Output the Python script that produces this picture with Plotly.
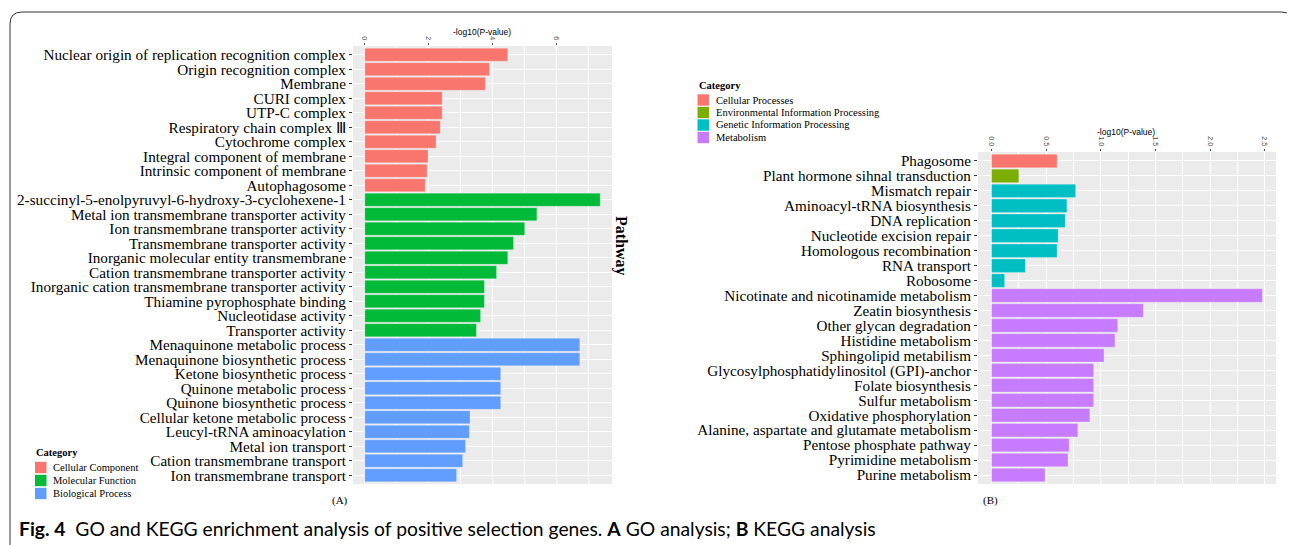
import plotly.graph_objects as go

# page offset of the plot div (default body margin) is compensated below
OFF = 8
W, H = 1295 - OFF, 545 - OFF

# ---------------- data ----------------
go_categories = ["Cellular Component", "Molecular Function", "Biological Process"]
go_colors = ["#F8766D", "#00BA38", "#619CFF"]

go_terms = [
    "Nuclear origin of replication recognition complex",
    "Origin recognition complex",
    "Membrane",
    "CURI complex",
    "UTP-C complex",
    "Respiratory chain complex Ⅲ",
    "Cytochrome complex",
    "Integral component of membrane",
    "Intrinsic component of membrane",
    "Autophagosome",
    "2-succinyl-5-enolpyruvyl-6-hydroxy-3-cyclohexene-1",
    "Metal ion transmembrane transporter activity",
    "Ion transmembrane transporter activity",
    "Transmembrane transporter activity",
    "Inorganic molecular entity transmembrane",
    "Cation transmembrane transporter activity",
    "Inorganic cation transmembrane transporter activity",
    "Thiamine pyrophosphate binding",
    "Nucleotidase activity",
    "Transporter activity",
    "Menaquinone metabolic process",
    "Menaquinone biosynthetic process",
    "Ketone biosynthetic process",
    "Quinone metabolic process",
    "Quinone biosynthetic process",
    "Cellular ketone metabolic process",
    "Leucyl-tRNA aminoacylation",
    "Metal ion transport",
    "Cation transmembrane transport",
    "Ion transmembrane transport",
]
go_values = [
    4.47, 3.90, 3.77, 2.42, 2.42, 2.36, 2.23, 1.98, 1.95, 1.89,
    7.36, 5.38, 5.00, 4.65, 4.47, 4.12, 3.74, 3.74, 3.62, 3.49,
    6.72, 6.72, 4.25, 4.25, 4.25, 3.29, 3.27, 3.15, 3.06, 2.87,
]
go_groups = (["Cellular Component"] * 10 + ["Molecular Function"] * 10
             + ["Biological Process"] * 10)

kegg_categories = ["Cellular Processes", "Environmental Information Processing",
                   "Genetic Information Processing", "Metabolism"]
kegg_colors = ["#F8766D", "#7CAE00", "#00BFC4", "#C77CFF"]

kegg_terms = [
    "Phagosome",
    "Plant hormone sihnal transduction",
    "Mismatch repair",
    "Aminoacyl-tRNA biosynthesis",
    "DNA replication",
    "Nucleotide excision repair",
    "Homologous recombination",
    "RNA transport",
    "Robosome",
    "Nicotinate and nicotinamide metabolism",
    "Zeatin biosynthesis",
    "Other glycan degradation",
    "Histidine metabolism",
    "Sphingolipid metabilism",
    "Glycosylphosphatidylinositol (GPI)-anchor",
    "Folate biosynthesis",
    "Sulfur metabolism",
    "Oxidative phosphorylation",
    "Alanine, aspartate and glutamate metabolism",
    "Pentose phosphate pathway",
    "Pyrimidine metabolism",
    "Purine metabolism",
]
kegg_values = [
    0.60, 0.25,
    0.77, 0.69, 0.675, 0.61, 0.60, 0.31, 0.12,
    2.48, 1.39, 1.155, 1.13, 1.03, 0.935, 0.935, 0.935, 0.90, 0.79, 0.71, 0.70, 0.49,
]
kegg_groups = (["Cellular Processes"] + ["Environmental Information Processing"]
               + ["Genetic Information Processing"] * 7 + ["Metabolism"] * 13)

go_xticks = [0, 2, 4, 6]
kegg_xticks = [0.0, 0.5, 1.0, 1.5, 2.0, 2.5]

# ---------------- helpers (page pixel -> paper) ----------------
def px(x):
    return (x - OFF) / W


def py(y):
    return 1 - (y - OFF) / H


SERIF = "Liberation Serif"
SANS = "Liberation Sans"
LABEL_SIZE = 15.2

fig = go.Figure()

for cat, col in zip(go_categories, go_colors):
    ys = [t for t, g in zip(go_terms, go_groups) if g == cat]
    xs = [v for v, g in zip(go_values, go_groups) if g == cat]
    fig.add_trace(go.Bar(y=ys, x=xs, orientation="h", width=0.9, name=cat,
                         marker=dict(color=col, line=dict(color="rgba(255,255,255,0.35)", width=0.8)),
                         xaxis="x", yaxis="y", showlegend=False))

for cat, col in zip(kegg_categories, kegg_colors):
    ys = [t for t, g in zip(kegg_terms, kegg_groups) if g == cat]
    xs = [v for v, g in zip(kegg_values, kegg_groups) if g == cat]
    fig.add_trace(go.Bar(y=ys, x=xs, orientation="h", width=0.9, name=cat,
                         marker=dict(color=col, line=dict(color="rgba(255,255,255,0.35)", width=0.8)),
                         xaxis="x2", yaxis="y2", showlegend=False))

xcommon = dict(side="top", tickangle=90, ticks="outside", ticklen=2.5, tickwidth=1,
               tickcolor="#4d4d4d", tickfont=dict(family=SANS, size=7, color="#4d4d4d"),
               showgrid=True, gridcolor="white", gridwidth=1.3, zeroline=False,
               showline=False, automargin=False, fixedrange=True)
ycommon = dict(type="category", categoryorder="array", ticks="outside", ticklen=3,
               tickwidth=1, tickcolor="#333333", tickmode="array",
               tickfont=dict(family=SERIF, size=LABEL_SIZE, color="black"),
               showgrid=True, gridcolor="white", gridwidth=1.3, zeroline=False,
               showline=False, automargin=False, fixedrange=True)

go_min = -0.05 * max(go_values)
go_max = max(go_values) * 1.05
kegg_min = -0.05 * max(kegg_values)
kegg_max = max(kegg_values) * 1.05

fig.update_layout(
    width=W, height=H,
    margin=dict(l=0, r=0, t=0, b=0),
    paper_bgcolor="white", plot_bgcolor="#EBEBEB",
    barmode="overlay",
    xaxis=dict(domain=[px(353), px(612)], anchor="y", range=[go_min, go_max],
               tickvals=go_xticks, ticktext=[str(v) for v in go_xticks],
               minor=dict(tickvals=[v + 1 for v in go_xticks], showgrid=True,
                          gridcolor="white", gridwidth=0.6, ticks=""),
               **xcommon),
    yaxis=dict(domain=[py(484), py(46)], anchor="x", categoryarray=go_terms,
               tickvals=go_terms, ticktext=go_terms,
               range=[len(go_terms) - 0.4, -0.6], **ycommon),
    xaxis2=dict(domain=[px(978), px(1276)], anchor="y2", range=[kegg_min, kegg_max],
                tickvals=kegg_xticks, ticktext=[f"{v:.1f}" for v in kegg_xticks],
                minor=dict(tickvals=[v + 0.25 for v in kegg_xticks], showgrid=True,
                           gridcolor="white", gridwidth=0.6, ticks=""),
                **xcommon),
    yaxis2=dict(domain=[py(484), py(152)], anchor="x2", categoryarray=kegg_terms,
                tickvals=kegg_terms, ticktext=kegg_terms,
                range=[len(kegg_terms) - 0.4, -0.6], **ycommon),
)

ann = []
# axis titles
ann.append(dict(x=px(482), y=py(32), xref="paper", yref="paper", text="-log10(P-value)",
                showarrow=False, font=dict(family=SANS, size=8.5, color="black"),
                xanchor="center", yanchor="middle"))
ann.append(dict(x=px(1126), y=py(132), xref="paper", yref="paper", text="-log10(P-value)",
                showarrow=False, font=dict(family=SANS, size=8.5, color="black"),
                xanchor="center", yanchor="middle"))
# Pathway
ann.append(dict(x=px(621), y=py(246), xref="paper", yref="paper", text="<b>Pathway</b>",
                textangle=90, showarrow=False, font=dict(family=SERIF, size=16, color="black"),
                xanchor="center", yanchor="middle"))
# panel labels
ann.append(dict(x=px(340), y=py(500), xref="paper", yref="paper", text="(A)",
                showarrow=False, font=dict(family=SERIF, size=11, color="black"),
                xanchor="center", yanchor="middle"))
ann.append(dict(x=px(990), y=py(500), xref="paper", yref="paper", text="(B)",
                showarrow=False, font=dict(family=SERIF, size=11, color="black"),
                xanchor="center", yanchor="middle"))
# caption
ann.append(dict(x=px(17), y=py(528), xref="paper", yref="paper",
                text="<b>Fig. 4</b>  GO and KEGG enrichment analysis of positive selection genes. "
                     "<b>A</b> GO analysis; <b>B</b> KEGG analysis",
                showarrow=False, xanchor="left", yanchor="middle",
                font=dict(family="Lato", size=19.3, color="black")))

shapes = []


def legend(x0, ytitle, ys, cats, cols):
    ann.append(dict(x=px(x0 - 1), y=py(ytitle), xref="paper", yref="paper",
                    text="<b>Category</b>", showarrow=False, xanchor="left", yanchor="middle",
                    font=dict(family=SERIF, size=10.5, color="black")))
    for yc, cat, col in zip(ys, cats, cols):
        shapes.append(dict(type="rect", xref="paper", yref="paper",
                           x0=px(x0), x1=px(x0 + 11.5), y0=py(yc + 5.7), y1=py(yc - 5.7),
                           fillcolor=col, line=dict(width=0)))
        ann.append(dict(x=px(x0 + 16), y=py(yc), xref="paper", yref="paper", text=cat,
                        showarrow=False, xanchor="left", yanchor="middle",
                        font=dict(family=SERIF, size=10.5, color="black")))


legend(35, 452, [467.5, 480.5, 493.5], go_categories, go_colors)
legend(697.5, 85, [100, 112.5, 125, 137.5], kegg_categories, kegg_colors)

# figure frame (rounded)
r = 12
L, T, R, B = 10, 12, 1293, 560
path = (f"M {px(L)},{py(B)} L {px(L)},{py(T + r)} Q {px(L)},{py(T)} {px(L + r)},{py(T)} "
        f"L {px(R - r)},{py(T)} Q {px(R)},{py(T)} {px(R)},{py(T + r)} L {px(R)},{py(B)}")
shapes.append(dict(type="path", xref="paper", yref="paper", path=path,
                   line=dict(color="#333333", width=1)))

fig.update_layout(annotations=ann, shapes=shapes)

fig.write_html("out.html")
